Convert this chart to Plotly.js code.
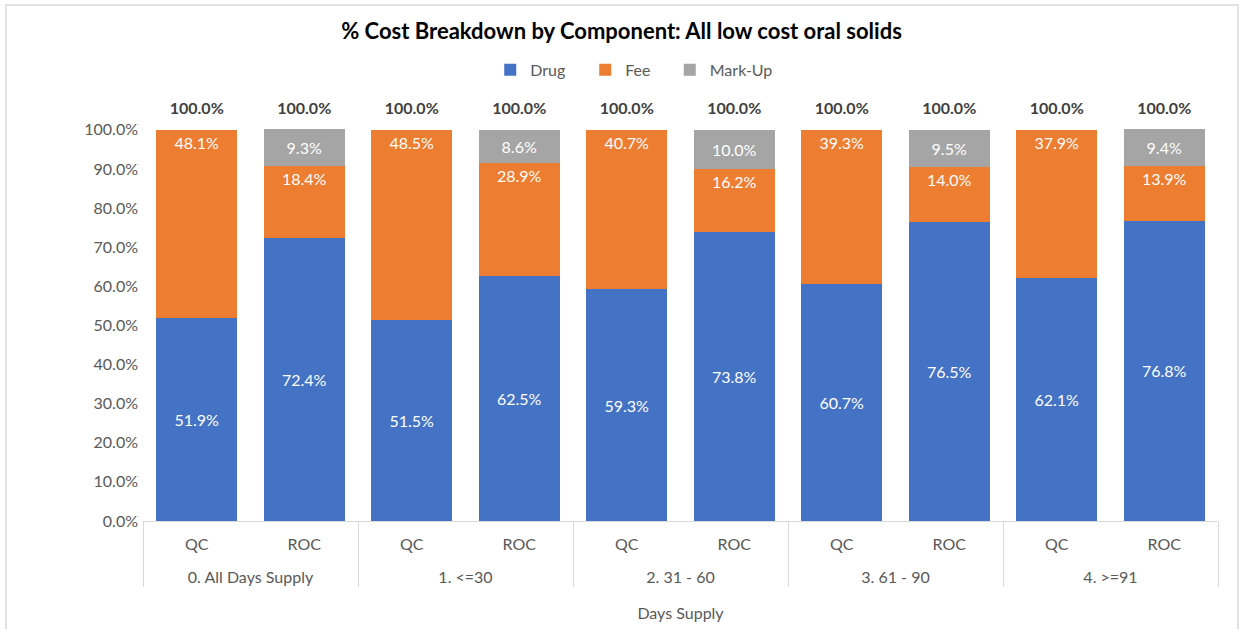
<!DOCTYPE html>
<html>
<head>
<meta charset="utf-8">
<script src="https://cdn.plot.ly/plotly-3.0.1.min.js"></script>
<style>
html,body{margin:0;padding:0;background:#fff;}
#chart{width:1243px;height:629px;}
</style>
</head>
<body>
<div id="chart"></div>
<script>
const groups = ["0. All Days Supply","0. All Days Supply","1. <=30","1. <=30","2. 31 - 60","2. 31 - 60","3. 61 - 90","3. 61 - 90","4. >=91","4. >=91"];
const types = ["QC","ROC","QC","ROC","QC","ROC","QC","ROC","QC","ROC"];
const drug = [51.9,72.4,51.5,62.5,59.3,73.8,60.7,76.5,62.1,76.8];
const fee = [48.1,18.4,48.5,28.9,40.7,16.2,39.3,14.0,37.9,13.9];
const markup = [0,9.3,0,8.6,0,10.0,0,9.5,0,9.4];
const totals = [100.0,100.0,100.0,100.0,100.0,100.0,100.0,100.0,100.0,100.0];

const FONT = "Lato, 'Open Sans', sans-serif";
// outer level gets a leading blank line so it sits lower, as in the reference
const x = [groups.map(g => "<br>" + g), types];
const lbl = arr => arr.map(v => v > 0 ? v.toFixed(1) + "%" : "");

function barTrace(name, vals, color, anchor, legendId) {
  return {
    type: "bar", name: name, x: x, y: vals,
    marker: {color: color},
    text: lbl(vals), texttemplate: "%{text}",
    textposition: "inside", insidetextanchor: anchor,
    textangle: 0,
    textfont: {family: FONT, size: 16, color: "#ffffff"},
    constraintext: "none",
    cliponaxis: false,
    legend: legendId,
    hoverinfo: "skip"
  };
}

const data = [
  barTrace("Drug", drug, "#4472C4", "middle", "legend"),
  barTrace("Fee", fee, "#ED7D31", "end", "legend"),
  barTrace("Mark-Up", markup, "#A5A5A5", "middle", "legend2"),
  {
    type: "scatter", mode: "markers+text", x: x, y: totals,
    text: totals.map(v => "<b>" + v.toFixed(1) + "%</b>"),
    textposition: "top center",
    textfont: {family: FONT, size: 16, color: "#404040"},
    marker: {size: 18, opacity: 0},
    cliponaxis: false, showlegend: false, hoverinfo: "skip"
  }
];

const legendBase = {
  orientation: "h", xanchor: "left", y: 1.151, yanchor: "middle",
  font: {family: FONT, size: 16, color: "#595959"},
  traceorder: "normal", entrywidth: 50
};

const layout = {
  width: 1243, height: 629,
  margin: {l: 143, r: 25, t: 129, b: 108},
  paper_bgcolor: "#ffffff", plot_bgcolor: "#ffffff",
  font: {family: FONT, size: 16, color: "#595959"},
  barmode: "stack", bargap: 0.25,
  title: {
    text: "<b>% Cost Breakdown by Component: All low cost oral solids</b>",
    font: {family: FONT, size: 22, color: "#000000"},
    x: 0.5, xref: "container", xanchor: "center",
    y: 1 - 31/629, yref: "container", yanchor: "middle"
  },
  legend: Object.assign({}, legendBase, {x: 0.323}),
  legend2: Object.assign({}, legendBase, {x: 0.490, entrywidth: 70}),
  xaxis: {
    type: "multicategory",
    range: [-0.5, 9.5], autorange: false,
    showline: true, linecolor: "#d9d9d9", linewidth: 1,
    showdividers: true, dividercolor: "#d9d9d9", dividerwidth: 1,
    ticks: "", showgrid: false, ticklabelstandoff: 9,
    tickfont: {family: FONT, size: 16, color: "#595959"},
    title: {text: "Days Supply", standoff: 22, font: {family: FONT, size: 16, color: "#595959"}}
  },
  yaxis: {
    range: [0, 100.2], dtick: 10, tick0: 0,
    tickformat: ".1f", ticksuffix: "%",
    showgrid: false, zeroline: false, showline: false,
    ticks: "", ticklabelstandoff: 4,
    tickfont: {family: FONT, size: 16, color: "#595959"}
  },
  shapes: [{
    type: "rect", xref: "paper", yref: "paper",
    x0: (6-143)/1075, x1: (1238-143)/1075,
    y0: (521-640)/392, y1: (521-5)/392,
    line: {color: "#d9d9d9", width: 1.5}, fillcolor: "rgba(0,0,0,0)", layer: "below"
  }]
};

Plotly.newPlot("chart", data, layout, {displayModeBar: false, staticPlot: true});
</script>
</body>
</html>
